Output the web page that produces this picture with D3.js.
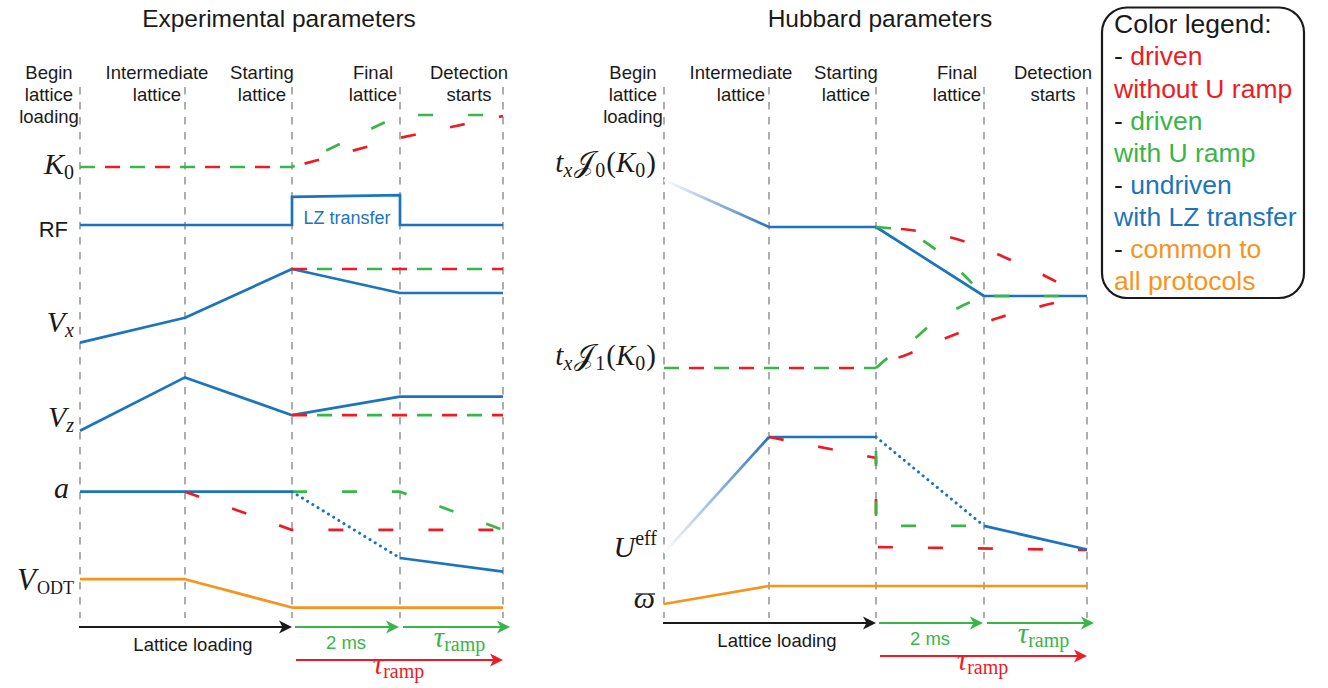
<!DOCTYPE html>
<html>
<head>
<meta charset="utf-8">
<script src="https://cdn.jsdelivr.net/npm/d3@7"></script>
<style>
  body { margin: 0; background: #fff; }
  text { font-family: "Liberation Sans", Arial, Helvetica, sans-serif; }
  .math { font-family: "Liberation Serif", "Times New Roman", serif; }
</style>
</head>
<body>
<svg id="fig" width="1328" height="688"></svg>
<script>
// ---------- stage labels (vertical markers) ----------
const stageNames = [
  ["Begin", "lattice", "loading"],
  ["Intermediate", "lattice"],
  ["Starting", "lattice"],
  ["Final", "lattice"],
  ["Detection", "starts"]
];
const panelTitles = ["Experimental parameters", "Hubbard parameters"];

// ---------- experimental parameters: [stage, level], level normalised per row ----------
const k0Green   = [[0, 0], [2, 0], [3, 1], [4, 1]];
const k0Red     = [[0, 0], [2, 0], [3, 0.56], [4, 0.98]];
const rfBlue    = [[0, 0], [2, 0], [2, 0.97], [3, 1.03], [3, 0], [4, 0]];
const vxBlue    = [[0, 0.03], [1, 0.34], [2, 0.95], [3, 0.65], [4, 0.65]];
const vxDriven  = [[2, 0.95], [4, 0.95]];
const vzBlue    = [[0, 0.07], [1, 0.96], [2, 0.33], [3, 0.64], [4, 0.64]];
const vzDriven  = [[2, 0.33], [4, 0.33]];
const aBlue     = [[0, 0.98], [2, 0.98]];
const aBlueLZ   = [[2, 0.98], [3, 0.2]];
const aBlueEnd  = [[3, 0.2], [4, 0.04]];
const aRed      = [[1, 0.98], [2, 0.53], [4, 0.53]];
const aGreen    = [[2, 0.98], [3, 0.98], [4, 0.53]];
const odtCommon = [[0, 0.88], [1, 0.88], [2, 0.07], [4, 0.07]];

// ---------- Hubbard parameters ----------
const jBlueLoad   = [[0, 1], [1, 0.75]];
const jBlue       = [[1, 0.75], [2, 0.75], [3, 0.383], [4, 0.383]];
const jGreenUpper = [[2, 0.75], [2.222, 0.734], [2.343, 0.707], [2.593, 0.612], [2.824, 0.489], [3, 0.383]];
const jGreenLower = [[2, 0], [2.13, 0.064], [2.333, 0.144], [2.546, 0.25], [2.759, 0.319], [3, 0.383]];
const jGreenFlat  = [[3, 0.383], [4, 0.383]];
const jRedUpper   = [[2, 0.75], [2.38, 0.729], [2.639, 0.702], [2.926, 0.652], [3.204, 0.588], [3.495, 0.516], [3.767, 0.441], [4, 0.378]];
const jRedLower   = [[2, 0], [2.065, 0.024], [2.278, 0.069], [2.556, 0.138], [2.833, 0.202], [3.136, 0.266], [3.417, 0.309], [3.699, 0.348], [4, 0.378]];
const j1Driven    = [[0, 0], [2, 0]];
const uBlueLoad   = [[0, 0.054], [1, 0.946]];
const uBlue       = [[1, 0.946], [2, 0.946]];
const uBlueLZ     = [[2, 0.946], [3, 0.262]];
const uBlueEnd    = [[3, 0.262], [4, 0.081]];
const uRed        = [[1, 0.946], [2, 0.785], [2, 0.1], [4, 0.077]];
const uGreen      = [[2, 0.946], [2, 0.262], [3, 0.262]];
const omegaCommon = [[0, 0.2], [1, 0.8], [4, 0.8]];

// ---------- legend ----------
const legendTitle = "Color legend:";
const legendEntries = [
  { key: "red",    lines: ["driven", "without U ramp"] },
  { key: "green",  lines: ["driven", "with U ramp"] },
  { key: "blue",   lines: ["undriven", "with LZ transfer"] },
  { key: "orange", lines: ["common to", "all protocols"] }
];

// ---------- styling ----------
const C = { red: "#ed1c24", green: "#39b54a", blue: "#1c75bc", orange: "#f7941d", grey: "#9a9a9a", black: "#1a1a1a" };
const DASH = "15,35";
const LW = 2.7;

const svg = d3.select("#fig");
const defs = svg.append("defs");

// piecewise stage -> x scales for the two panels
const xL = d3.scaleLinear().domain([0, 1, 2, 3, 4]).range([80, 185, 292, 400, 503]);
const xR = d3.scaleLinear().domain([0, 1, 2, 3, 4]).range([664, 769, 876, 984, 1087]);

// row scales: level 0..1 -> pixel band of each row
const row = (lo, hi) => d3.scaleLinear().domain([0, 1]).range([lo, hi]);
const yK = row(167, 115), yRF = row(225, 196), yVx = row(345, 265), yVz = row(435, 375),
      yA = row(575, 490), yODT = row(610, 575);
const yJ = row(368, 180), yU = row(560, 430), yW = row(610, 580);

// ---------- titles ----------
svg.append("text").attr("x", 279).attr("y", 27).attr("text-anchor", "middle")
  .attr("font-size", 24.5).attr("fill", C.black).text(panelTitles[0]);
svg.append("text").attr("x", 880).attr("y", 27).attr("text-anchor", "middle")
  .attr("font-size", 24.5).attr("fill", C.black).text(panelTitles[1]);

// ---------- stage markers ----------
const headerShift = [-31, -28, -30, -27, -34];
function stageMarkers(x) {
  const g = svg.append("g");
  g.selectAll("line").data(d3.range(5)).join("line")
    .attr("x1", d => x(d)).attr("x2", d => x(d))
    .attr("y1", 87).attr("y2", 618)
    .attr("stroke", C.grey).attr("stroke-width", 1.6).attr("stroke-dasharray", "7.5,7.5");
  stageNames.forEach((lines, i) => {
    const t = g.append("text").attr("text-anchor", "middle").attr("font-size", 18.5).attr("fill", C.black);
    lines.forEach((s, k) => {
      t.append("tspan").attr("x", x(i) + headerShift[i]).attr("y", 78.5 + 22 * k).text(s);
    });
  });
}
stageMarkers(xL);
stageMarkers(xR);

// ---------- series drawing ----------
const plot = svg.append("g");
function series(xs, ys, pts, o) {
  const gen = d3.line().x(d => xs(d[0])).y(d => ys(d[1])).curve(o.curve || d3.curveLinear);
  const p = plot.append("path").attr("d", gen(pts)).attr("fill", "none")
    .attr("stroke", o.color).attr("stroke-width", o.width || LW)
    .attr("stroke-linejoin", o.join || "round");
  if (o.dash) p.attr("stroke-dasharray", o.dash).attr("stroke-dashoffset", o.offset || 0);
  if (o.cap) p.attr("stroke-linecap", o.cap);
  return p;
}
function fading(xs, ys, pts, id) {
  const [a, b] = pts;
  const gr = defs.append("linearGradient").attr("id", id).attr("gradientUnits", "userSpaceOnUse")
    .attr("x1", xs(a[0])).attr("y1", ys(a[1])).attr("x2", xs(b[0])).attr("y2", ys(b[1]));
  gr.append("stop").attr("offset", 0).attr("stop-color", "#ffffff");
  gr.append("stop").attr("offset", 0.15).attr("stop-color", "#dfe8f4");
  gr.append("stop").attr("offset", 1).attr("stop-color", "#2b72bd");
  series(xs, ys, pts, { color: `url(#${id})` });
}
const dotted = { color: C.blue, dash: "0.1,6", cap: "round", width: 3 };
const green = (off = 0) => ({ color: C.green, dash: DASH, offset: off });
const red = (off = -25) => ({ color: C.red, dash: DASH, offset: off });

// left panel
series(xL, yK, k0Red, red());
series(xL, yK, k0Green, green());
series(xL, yRF, rfBlue, { color: C.blue, join: "miter" });
series(xL, yVx, vxBlue, { color: C.blue });
series(xL, yVx, vxDriven, red(0));
series(xL, yVx, vxDriven, green(-25));
series(xL, yVz, vzBlue, { color: C.blue });
series(xL, yVz, vzDriven, red(0));
series(xL, yVz, vzDriven, green(-25));
series(xL, yA, aBlue, { color: C.blue });
series(xL, yA, aRed, red(0));
series(xL, yA, aGreen, green());
series(xL, yA, aBlueLZ, dotted);
series(xL, yA, aBlueEnd, { color: C.blue });
series(xL, yODT, odtCommon, { color: C.orange });

// right panel
fading(xR, yJ, jBlueLoad, "fadeJ");
series(xR, yJ, jBlue, { color: C.blue });
series(xR, yJ, j1Driven, red());
series(xR, yJ, j1Driven, green());
series(xR, yJ, jRedUpper, Object.assign(red(), { curve: d3.curveMonotoneX }));
series(xR, yJ, jRedLower, Object.assign(red(), { curve: d3.curveMonotoneX }));
series(xR, yJ, jGreenUpper, Object.assign(green(), { curve: d3.curveMonotoneX }));
series(xR, yJ, jGreenLower, Object.assign(green(), { curve: d3.curveMonotoneX }));
series(xR, yJ, jGreenFlat, green(-10));
fading(xR, yU, uBlueLoad, "fadeU");
series(xR, yU, uBlue, { color: C.blue });
series(xR, yU, uRed, Object.assign(red(0), { join: "miter" }));
series(xR, yU, uGreen, Object.assign(green(-14), { join: "miter" }));
series(xR, yU, uBlueLZ, dotted);
series(xR, yU, uBlueEnd, { color: C.blue });
series(xR, yW, omegaCommon, { color: C.orange });

// LZ transfer annotation inside the RF pulse
svg.append("text").attr("x", (xL(2) + xL(3)) / 2 + 1).attr("y", 224).attr("text-anchor", "middle")
  .attr("font-size", 18).attr("fill", C.blue).text("LZ transfer");

// ---------- row labels (math) ----------
function mathLabel(x, y, parts, size, anchor) {
  const t = svg.append("text").attr("class", "math").attr("x", x).attr("y", y)
    .attr("text-anchor", anchor || "end").attr("font-size", size).attr("fill", C.black);
  let shift = 0;
  parts.forEach(p => {
    const s = p.s || 0;
    const ts = t.append("tspan").attr("dy", s - shift).text(p.t);
    shift = s;
    if (p.dx) ts.attr("dx", p.dx);
    if (p.it) ts.attr("font-style", "italic");
    if (p.fs) ts.attr("font-size", p.fs);
  });
  return t;
}
const M = 30, SUB = 20;
mathLabel(74, 174, [{ t: "K", it: 1 }, { t: "0", fs: SUB, s: 5 }], M);
svg.append("text").attr("x", 68).attr("y", 237).attr("text-anchor", "end")
  .attr("font-size", 22).attr("fill", C.black).text("RF");
mathLabel(74, 332, [{ t: "V", it: 1 }, { t: "x", it: 1, fs: SUB, s: 5 }], M);
mathLabel(74, 427, [{ t: "V", it: 1 }, { t: "z", it: 1, fs: SUB, s: 5 }], M);
mathLabel(69, 498, [{ t: "a", it: 1 }], M);
mathLabel(74, 590, [{ t: "V", it: 1 }, { t: "ODT", fs: 18, s: 4, dx: 1 }], M + 1);

const J = "\u{1D4A5}";
const hop = n => [{ t: "t", it: 1 }, { t: "x", it: 1, fs: SUB, s: 5 }, { t: J, s: 0, dx: 2 }, { t: n, fs: SUB, s: 5, dx: 1 },
  { t: "(", s: 0, dx: 1 }, { t: "K", it: 1 }, { t: "0", fs: SUB, s: 5 }, { t: ")", s: 0, dx: 1 }];
mathLabel(656, 172, hop("0"), M - 1);
mathLabel(656, 365, hop("1"), M - 1);
mathLabel(657, 557, [{ t: "U", it: 1 }, { t: "eff", fs: SUB, s: -12 }], M);
const om = mathLabel(655, 608, [{ t: "\u03C9", it: 1 }], M);
const ob = om.node().getBBox();
svg.append("line").attr("x1", ob.x + 2).attr("x2", ob.x + ob.width).attr("y1", 594).attr("y2", 594)
  .attr("stroke", C.black).attr("stroke-width", 1.3);

// ---------- time bars ----------
function arrow(x1, x2, y, color) {
  svg.append("line").attr("x1", x1).attr("x2", x2 - 8).attr("y1", y).attr("y2", y)
    .attr("stroke", color).attr("stroke-width", 1.8);
  svg.append("path")
    .attr("d", `M${x2},${y} L${x2 - 13},${y - 6.5} L${x2 - 9.5},${y} L${x2 - 13},${y + 6.5} Z`)
    .attr("fill", color);
}
function tauRamp(x, y, color) {
  mathLabel(x, y, [{ t: "\u03C4", it: 1 }, { t: "ramp", fs: 20, s: 4 }], 29, "middle")
    .attr("fill", color);
}
function timeBars(x, y0, y1) {
  arrow(x(0) - 1, x(2), y0, C.black);
  arrow(x(2) + 3, x(3) - 1, y0, C.green);
  arrow(x(3) + 3, x(4) + 7, y0, C.green);
  arrow(x(2) + 4, x(4), y1, C.red);
  svg.append("text").attr("x", (x(0) + x(2)) / 2 + 7).attr("y", y0 + 24).attr("text-anchor", "middle")
    .attr("font-size", 18.5).attr("fill", C.black).text("Lattice loading");
  svg.append("text").attr("x", (x(2) + x(3)) / 2).attr("y", y0 + 22).attr("text-anchor", "middle")
    .attr("font-size", 18.5).attr("fill", C.green).text("2 ms");
  tauRamp((x(3) + x(4)) / 2 + 8, y0 + 20, C.green);
  tauRamp((x(2) + x(4)) / 2 + 1, y1 + 14, C.red);
}
timeBars(xL, 627, 660);
timeBars(xR, 623, 656);

// ---------- legend ----------
const lg = svg.append("g");
lg.append("rect").attr("x", 1102).attr("y", 7.5).attr("width", 202).attr("height", 290.5)
  .attr("rx", 25).attr("fill", "#fff").attr("stroke", C.black).attr("stroke-width", 2.2);
const legendLines = [{ parts: [{ t: legendTitle, c: C.black }] }];
legendEntries.forEach(e => {
  legendLines.push({ parts: [{ t: "- ", c: C.black }, { t: e.lines[0], c: C[e.key] }] });
  legendLines.push({ parts: [{ t: e.lines[1], c: C[e.key] }] });
});
legendLines.forEach((ln, i) => {
  const t = lg.append("text").attr("x", 1114).attr("y", 33.3 + 32.1 * i).attr("font-size", 26.5);
  ln.parts.forEach(p => t.append("tspan").attr("fill", p.c).style("white-space", "pre").text(p.t));
});
</script>
</body>
</html>
